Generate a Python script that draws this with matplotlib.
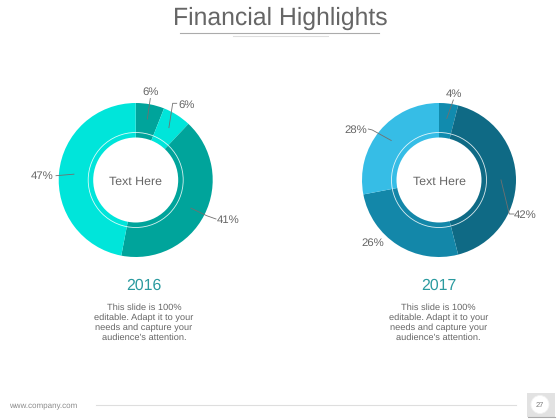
# Financial Highlights slide, two donuts drawn on a pixel sized axes
import matplotlib
matplotlib.use("Agg")
import matplotlib.pyplot as plt
from matplotlib.patches import Circle, Rectangle
import numpy as np

plt.rcParams["font.family"] = ["Liberation Sans", "DejaVu Sans"]
plt.rcParams["text.hinting"] = "no_hinting"

TITLE = "Financial Highlights"
CENTER_TEXT = "Text Here"
BODY = "This slide is 100%\neditable. Adapt it to your\nneeds and capture your\naudience's attention."

YEARS = ["2016", "2017"]
VALUES_2016 = [6, 6, 41, 47]
VALUES_2017 = [4, 42, 26, 28]
COLORS_2016 = ["#00A49B", "#00E5DA", "#00A49B", "#00E5DA"]
COLORS_2017 = ["#118BAE", "#0F6A85", "#1387A9", "#36BDE6"]

H = 420
R_OUT = 77
R_HOLE = 42.5
R_RING = 47.5
R_LEADER = 62
TEXT_COL = "#666666"
LINE_COL = "#707070"

# label position and leader bend points per slice, in pixels from the top left
LABELS_2016 = [
    ((150.5, 92.5), [(150.3, 98.5)]),
    ((186.5, 105), [(172.7, 103.3), (176.7, 103.3)]),
    ((228.5, 220), [(206.7, 215.7), (216, 219)]),
    ((42, 176.5), [(56, 175.7)]),
]
LABELS_2017 = [
    ((453.7, 93.7), [(453.3, 100)]),
    ((525, 215), [(509.3, 214), (514, 214)]),
    ((373, 242.7), None),
    ((355.7, 130), [(372.3, 130), (368.3, 129)]),
]


def draw_donut(ax, cx, cy, values, colors, labels, year, text_x):
    y = H - cy
    ax.pie(values, colors=colors, center=(cx, y), radius=R_OUT, startangle=90,
           counterclock=False, frame=True, wedgeprops={"linewidth": 0})
    ax.add_patch(Circle((cx, y), R_HOLE, fc="white", ec="none", zorder=3))
    ax.add_patch(Circle((cx, y), R_RING, fc="none", ec="white", lw=0.6, alpha=0.85, zorder=3))
    ax.text(cx, y - 1.5, CENTER_TEXT, ha="center", va="center", fontsize=8.9, color=TEXT_COL, zorder=4)

    mids = (np.cumsum(values) - np.array(values) / 2) / sum(values) * 2 * np.pi
    for val, mid, (pos, bends) in zip(values, mids, labels):
        ax.text(pos[0], H - pos[1], f"{val}%", ha="center", va="center",
                fontsize=8.2, color=TEXT_COL, zorder=4)
        if bends is None:
            continue
        xs = [cx + R_LEADER * np.sin(mid)] + [b[0] for b in bends]
        ys = [y + R_LEADER * np.cos(mid)] + [H - b[1] for b in bends]
        ax.plot(xs, ys, color=LINE_COL, lw=0.6, zorder=4)

    ax.text(text_x, H - 285.5, year, ha="center", va="center", fontsize=11.4, color="#2A9A9F")
    ax.text(text_x, H - 322.7, BODY, ha="center", va="center", fontsize=6.7,
            color=TEXT_COL, linespacing=1.215)


fig = plt.figure(figsize=(5.6, 4.2), dpi=100)
ax = fig.add_axes([0, 0, 1, 1])

draw_donut(ax, 135.7, 180, VALUES_2016, COLORS_2016, LABELS_2016, YEARS[0], 144)
draw_donut(ax, 439, 180, VALUES_2017, COLORS_2017, LABELS_2017, YEARS[1], 438.5)

# title and rules
ax.text(280, H - 18.5, TITLE, ha="center", va="center", fontsize=17.8, color=TEXT_COL)
ax.plot([180, 379], [H - 32.5, H - 32.5], color="#ABABAB", lw=0.8)
ax.plot([233, 328], [H - 35.5, H - 35.5], color="#DDDDDD", lw=0.8)

# footer
ax.text(9.3, H - 404.8, "www.company.com", ha="left", va="center", fontsize=5.8, color="#8C8C8C")
ax.plot([96, 516], [H - 404.5, H - 404.5], color="#DEDEDE", lw=0.8)
ax.add_patch(Rectangle((527, H - 417), 28, 24, fc="#E2E2E2", ec="none"))
ax.plot([528, 555], [H - 417, H - 417], color="#AAAAAA", lw=0.8)
ax.add_patch(Circle((540, H - 404.5), 9, fc="white", ec="#F2F2F2", lw=0.6))
ax.text(540, H - 405, "27", ha="center", va="center", fontsize=5.4, color="#777777")

ax.set_xlim(0, 560)
ax.set_ylim(0, H)
ax.axis("off")

fig.savefig("out.png", dpi=100)
plt.close("all")
